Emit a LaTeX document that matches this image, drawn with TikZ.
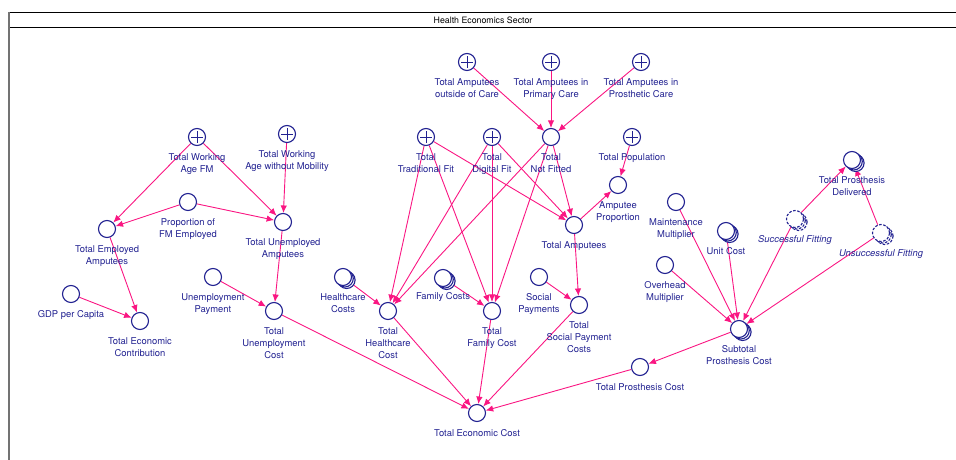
\documentclass[tikz,border=0pt]{standalone}
\usepackage{fontspec}
\setmainfont{TeX Gyre Heros}
\usetikzlibrary{arrows.meta,shadows}
\definecolor{flowpink}{RGB}{250,22,130}
\definecolor{navyink}{RGB}{34,34,145}
\pgfdeclarelayer{background}
\pgfsetlayers{background,main}
\newcommand\varlabel[2]{\node[lab] (#1-l) at ([yshift=-16pt]#1.center) {#2};}

\begin{document}
\begin{tikzpicture}[x=1pt,y=-1pt,
  var/.style={circle,draw=navyink,line width=1.1pt,fill=white,minimum size=17pt,inner sep=0pt},
  ghost/.style={var,path picture={\draw[navyink,line width=0.85pt]
      ([xshift=-5.8pt]path picture bounding box.center) -- ([xshift=5.8pt]path picture bounding box.center)
      ([yshift=-5.8pt]path picture bounding box.center) -- ([yshift=5.8pt]path picture bounding box.center);}},
  stack/.style={var,double copy shadow={shadow xshift=1.8pt,shadow yshift=-1.5pt}},
  dstack/.style={stack,dash pattern=on 2.6pt off 1.6pt},
  lab/.style={anchor=north,inner sep=0pt,align=center,text=navyink,font=\fontsize{9.4}{12}\selectfont},
  link/.style={draw=flowpink,line width=0.9pt,-{Latex[length=7.5pt,width=6.5pt]}}]

\useasboundingbox (0,0) rectangle (956,460);

% sector frame and title bar
\coordinate (tl) at (9,12);
\coordinate (tr) at (956,12);
\coordinate (bl) at (9,27);
\coordinate (br) at (956,27);
\coordinate (fb) at (9,460);
\draw[line width=0.9pt] (tl) -- (tr) (bl) -- (br);
\draw[color=black!55,line width=1.8pt] (tl) -- (fb);
\node[font=\fontsize{8.8}{10}\selectfont] (title) at (483,20) {Health Economics Sector};

% employment block
\node[ghost] (twafm) at (197,137) {};
\varlabel{twafm}{Total Working\\Age FM}
\node[ghost] (twam) at (287,134) {};
\varlabel{twam}{Total Working\\Age without Mobility}
\node[var] (pfe) at (188,202) {};
\varlabel{pfe}{Proportion of\\FM Employed}
\node[var] (tea) at (107,229) {};
\varlabel{tea}{Total Employed\\Amputees}
\node[var] (tua) at (283,222) {};
\varlabel{tua}{Total Unemployed\\Amputees}
\node[var] (gdp) at (71,294) {};
\varlabel{gdp}{GDP per Capita}
\node[var] (tec) at (140,321) {};
\varlabel{tec}{Total Economic\\Contribution}
\node[var] (up) at (213,277) {};
\varlabel{up}{Unemployment\\Payment}
\node[var] (tuc) at (274,311) {};
\varlabel{tuc}{Total\\Unemployment\\Cost}

% amputee stocks
\node[ghost] (toc) at (467,62) {};
\varlabel{toc}{Total Amputees\\outside of Care}
\node[ghost] (tpc) at (551,62) {};
\varlabel{tpc}{Total Amputees in\\Primary Care}
\node[ghost] (tprc) at (641,62) {};
\varlabel{tprc}{Total Amputees in\\Prosthetic Care}
\node[var] (tnf) at (551,137) {};
\varlabel{tnf}{Total\\Not Fitted}
\node[ghost] (ttf) at (426,137) {};
\varlabel{ttf}{Total\\Traditional Fit}
\node[ghost] (tdf) at (492,137) {};
\varlabel{tdf}{Total\\Digital Fit}
\node[ghost] (tpop) at (632,137) {};
\varlabel{tpop}{Total Population}
\node[var] (ap) at (618,185) {};
\varlabel{ap}{Amputee\\Proportion}
\node[var] (ta) at (574,225) {};
\varlabel{ta}{Total Amputees}

% cost block
\node[stack] (hc) at (343,277) {};
\varlabel{hc}{Healthcare\\Costs}
\node[var] (thc) at (388,311) {};
\varlabel{thc}{Total\\Healthcare\\Cost}
\node[stack] (fc) at (443,278) {};
\node[lab] (fc-l) at ([yshift=-14.5pt]fc.center) {Family Costs};
\node[var] (tfc) at (492,311) {};
\varlabel{tfc}{Total\\Family Cost}
\node[var] (sp) at (539,277) {};
\varlabel{sp}{Social\\Payments}
\node[var] (tspc) at (579,305) {};
\varlabel{tspc}{Total\\Social Payment\\Costs}
\node[var] (tprosc) at (640,367) {};
\varlabel{tprosc}{Total Prosthesis Cost}
\node[var] (tecost) at (477,413) {};
\varlabel{tecost}{Total Economic Cost}

% prosthesis block
\node[var] (mm) at (676,202) {};
\varlabel{mm}{Maintenance\\Multiplier}
\node[stack] (uc) at (726,231) {};
\varlabel{uc}{Unit Cost}
\node[var] (om) at (665,265) {};
\varlabel{om}{Overhead\\Multiplier}
\node[stack] (spc) at (739,329) {};
\varlabel{spc}{Subtotal\\Prosthesis Cost}
\node[dstack] (sf) at (795,219) {};
\varlabel{sf}{\itshape Successful Fitting}
\node[dstack] (uf) at (881,233) {};
\varlabel{uf}{\itshape Unsuccessful Fitting}
\node[stack] (tpd) at (852,160) {};
\varlabel{tpd}{Total Prosthesis\\Delivered}

\begin{pgfonlayer}{background}
% employment links
\draw[link] (twafm) -- (tea);
\draw[link] (twafm) -- (tua);
\draw[link] (twam) -- (tua);
\draw[link] (pfe) -- (tea);
\draw[link] (pfe) -- (tua);
\draw[link] (tea) -- (tec);
\draw[link] (gdp) -- (tec);
\draw[link] (tua) -- (tuc);
\draw[link] (up) -- (tuc);
\draw[link] (tuc) -- (tecost);
% amputee links
\draw[link] (toc) -- (tnf);
\draw[link] (tpc) -- (tnf);
\draw[link] (tprc) -- (tnf);
\draw[link] (ttf) -- (thc);
\draw[link] (ttf) -- (tfc);
\draw[link] (ttf) -- (ta);
\draw[link] (tdf) -- (thc);
\draw[link] (tdf) -- (tfc);
\draw[link] (tdf) -- (ta);
\draw[link] (tnf) -- (thc);
\draw[link] (tnf) -- (tfc);
\draw[link] (tnf) -- (ta);
\draw[link] (tpop) -- (ap);
\draw[link] (ta) -- (ap);
\draw[link] (ta) -- (tspc);
% cost links
\draw[link] (hc) -- (thc);
\draw[link] (fc) -- (tfc);
\draw[link] (sp) -- (tspc);
\draw[link] (thc) -- (tecost);
\draw[link] (tfc) -- (tecost);
\draw[link] (tspc) -- (tecost);
\draw[link] (tprosc) -- (tecost);
% prosthesis links
\draw[link] (spc) -- (tprosc);
\draw[link] (mm) -- (spc);
\draw[link] (uc) -- (spc);
\draw[link] (om) -- (spc);
\draw[link] (sf) -- (spc);
\draw[link] (uf) -- (spc);
\draw[link] (sf) -- (tpd);
\draw[link] (uf) -- (tpd);
\end{pgfonlayer}
\end{tikzpicture}
\end{document}
